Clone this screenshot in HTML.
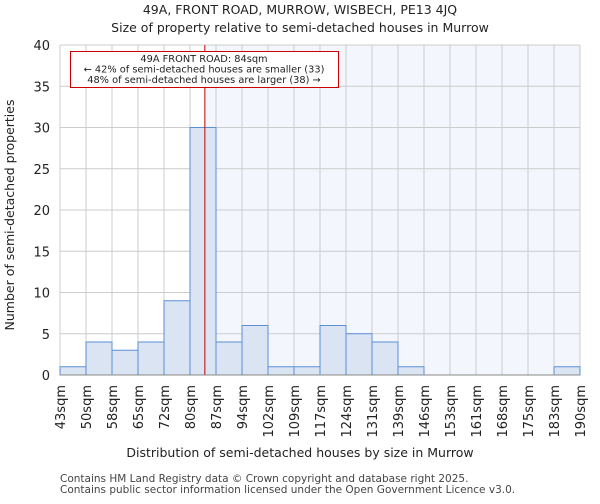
<!DOCTYPE html>
<html><head><meta charset="utf-8"><style>
body{margin:0;background:#fff;font-family:"DejaVu Sans","Liberation Sans",sans-serif}
svg text{font-family:"DejaVu Sans","Liberation Sans",sans-serif}
</style></head><body>
<svg id="c" width="600" height="500" xmlns="http://www.w3.org/2000/svg">
<text x="300" y="14" text-anchor="middle" font-size="12.5" fill="#222">49A, FRONT ROAD, MURROW, WISBECH, PE13 4JQ</text>
<text x="300" y="32" text-anchor="middle" font-size="12.5" fill="#222">Size of property relative to semi-detached houses in Murrow</text>
<g id="plot"></g>
<text x="300" y="457" text-anchor="middle" font-size="12.5" fill="#222">Distribution of semi-detached houses by size in Murrow</text>
<text transform="translate(14,215) rotate(-90)" text-anchor="middle" font-size="12.5" fill="#222">Number of semi-detached properties</text>
<text x="60" y="482" font-size="10.5" fill="#444">Contains HM Land Registry data © Crown copyright and database right 2025.</text>
<text x="60" y="493" font-size="10.5" fill="#444">Contains public sector information licensed under the Open Government Licence v3.0.</text>
</svg>
<script>
const categories=["43sqm","50sqm","58sqm","65sqm","72sqm","80sqm","87sqm","94sqm","102sqm","109sqm","117sqm","124sqm","131sqm","139sqm","146sqm","153sqm","161sqm","168sqm","175sqm","183sqm","190sqm"];
const counts=[1,4,3,4,9,30,4,6,1,1,6,5,4,1,0,0,0,0,0,1];
const yTicks=[0,5,10,15,20,25,30,35,40];
const propertyBinPos=5+4/7;
const X0=60,X1=580,Y0=375,Y1=45,YMAX=40;
const nb=counts.length;
const xs=i=>X0+(X1-X0)*i/nb;
const ys=v=>Y0-(Y0-Y1)*v/YMAX;
const NS="http://www.w3.org/2000/svg";
const g=document.getElementById('plot');
function mk(t,a){const e=document.createElementNS(NS,t);for(const k in a)e.setAttribute(k,a[k]);g.appendChild(e);return e;}
const px=xs(propertyBinPos);
let e=mk('rect',{x:px,y:Y1,width:X1-px,height:Y0-Y1,fill:'#f3f6fd'});


yTicks.forEach(t=>{
 let l=mk('line',{x1:X0,x2:X1,y1:ys(t),y2:ys(t),stroke:'#ccc'});
 
 
 let tx=mk('text',{x:X0-10,y:ys(t)+5,'text-anchor':'end','font-size':13,fill:'#222'});
 tx.textContent=t;
 
 
});
for(let i=0;i<=nb;i++){
 let l=mk('line',{x1:xs(i),x2:xs(i),y1:Y1,y2:Y0,stroke:'#ccc'});
 
 
}
counts.forEach((v,i)=>{
 if(v<=0)return;
 let r=mk('rect',{x:xs(i),y:ys(v),width:xs(i+1)-xs(i),height:Y0-ys(v),fill:'#dae4f3',stroke:'#5b8fd6','stroke-width':1});
 
 
});
categories.forEach((c,i)=>{
 let t=mk('text',{transform:`translate(${xs(i)+5},385) rotate(-90)`,'text-anchor':'end','font-size':13,fill:'#222'});
 t.textContent=c;
 
 
});
e=mk('line',{x1:px,x2:px,y1:Y1,y2:Y0,stroke:'#b00','stroke-width':1});


e=mk('rect',{x:70.5,y:51.5,width:268,height:36,fill:'#fff',stroke:'#c00','stroke-width':1});


[["49A FRONT ROAD: 84sqm",62],["← 42% of semi-detached houses are smaller (33)",72.5],["48% of semi-detached houses are larger (38) →",83]].forEach(([s,y])=>{
 let t=mk('text',{x:204,y:y,'text-anchor':'middle','font-size':9.8,fill:'#222'});
 t.textContent=s;
 
 
});
e=mk('line',{x1:X0,x2:X1,y1:Y0,y2:Y0,stroke:'#888'});


</script>
</body></html>
